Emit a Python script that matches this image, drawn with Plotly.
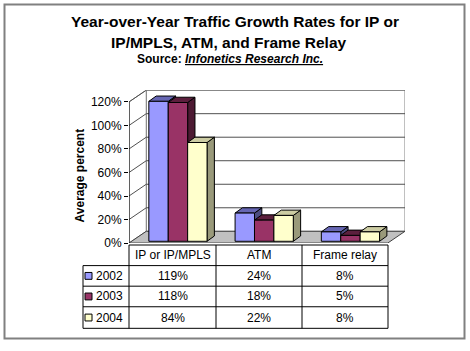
import plotly.graph_objects as go

# ---- data ----
categories = ["IP or IP/MPLS", "ATM", "Frame relay"]
years = ["2002", "2003", "2004"]
values_2002 = [119, 24, 8]
values_2003 = [118, 18, 5]
values_2004 = [84, 22, 8]
series = [values_2002, values_2003, values_2004]
tick_vals = [0, 20, 40, 60, 80, 100, 120]
tick_text = ["0%", "20%", "40%", "60%", "80%", "100%", "120%"]

# ---- styles ----
W, H = 470, 351
FONT = "Arial, Liberation Sans, Helvetica, sans-serif"
face_colors = ["#9999FF", "#993366", "#FFFFCC"]
top_colors = ["#6666B3", "#5C1F3D", "#CCCCA3"]
side_colors = ["#4D4D80", "#4D1A33", "#99997A"]

def px(x):
    return x / W

def py(y):
    return 1 - y / H

# axis geometry (front plane width per category = 1 unit)
DEPTH_X, DEPTH_Y = 0.2, 10          # wall/floor depth in data units
BAR_DX, BAR_DY = 0.085, 4.5         # bar depth
BAR_SET_X, BAR_SET_Y = 0.03, 1.5    # bars set slightly back on the floor
BAR_W = 0.225
BAR_START = 0.2
YMAX = 120

fig = go.Figure()

def poly(xs, ys, fill, line="#000000", lw=1):
    fig.add_trace(go.Scatter(
        x=xs + [xs[0]], y=ys + [ys[0]], mode="lines", fill="toself",
        fillcolor=fill, line=dict(color=line, width=lw),
        hoverinfo="skip", showlegend=False))

def line(xs, ys, color, lw=1):
    fig.add_trace(go.Scatter(
        x=xs, y=ys, mode="lines", line=dict(color=color, width=lw),
        hoverinfo="skip", showlegend=False))

ncat = len(categories)
# back wall
poly([DEPTH_X, ncat + DEPTH_X, ncat + DEPTH_X, DEPTH_X],
     [DEPTH_Y, DEPTH_Y, YMAX + DEPTH_Y, YMAX + DEPTH_Y], "#FFFFFF", "#808080")
# left wall
poly([0, DEPTH_X, DEPTH_X, 0], [0, DEPTH_Y, YMAX + DEPTH_Y, YMAX], "#FFFFFF", "#808080")
# floor
poly([0, ncat, ncat + DEPTH_X, DEPTH_X], [0, 0, DEPTH_Y, DEPTH_Y], "#C0C0C0", "#404040")
# gridlines
for v in tick_vals[1:]:
    line([0, DEPTH_X, ncat + DEPTH_X], [v, v + DEPTH_Y, v + DEPTH_Y], "#505050")
# axis line
line([0, 0], [0, YMAX], "#000000")

# bars (3D boxes)
for i in range(ncat):
    for j, vals in enumerate(series):
        v = vals[i]
        x0 = i + BAR_START + BAR_SET_X + j * BAR_W
        x1 = x0 + BAR_W
        b = BAR_SET_Y
        t = v + BAR_SET_Y
        # side face
        poly([x1, x1 + BAR_DX, x1 + BAR_DX, x1], [b, b + BAR_DY, t + BAR_DY, t], side_colors[j])
        # top face
        poly([x0, x1, x1 + BAR_DX, x0 + BAR_DX], [t, t, t + BAR_DY, t + BAR_DY], top_colors[j])
        # front face
        poly([x0, x1, x1, x0], [b, b, t, t], face_colors[j])

fig.update_layout(
    width=W, height=H,
    margin=dict(l=0, r=0, t=0, b=0),
    paper_bgcolor="#FFFFFF", plot_bgcolor="rgba(0,0,0,0)",
    showlegend=False,
    font=dict(family=FONT, color="#000000", size=12),
    xaxis=dict(domain=[px(129), px(405)], range=[0, ncat + DEPTH_X],
               showgrid=False, zeroline=False, showticklabels=False,
               showline=False, ticks=""),
    yaxis=dict(domain=[py(248), py(92)], range=[0, YMAX + DEPTH_Y],
               tickvals=tick_vals, ticktext=tick_text, ticks="outside",
               ticklen=4, tickcolor="#000000", showgrid=False,
               zeroline=False, showline=False,
               tickfont=dict(family=FONT, size=12, color="#000000")),
)

shapes = []
anns = []
# outer frame
shapes.append(dict(type="rect", xref="paper", yref="paper",
                   x0=px(4.5), x1=px(464.5), y0=py(345.5), y1=py(4.5),
                   line=dict(color="#808080", width=2)))

# titles
anns.append(dict(text="<b>Year-over-Year Traffic Growth Rates for IP or</b>",
                 x=px(235), y=py(22), font=dict(size=15.5)))
anns.append(dict(text="<b>IP/MPLS, ATM, and Frame Relay</b>",
                 x=px(229), y=py(43), font=dict(size=15.5)))
anns.append(dict(text="<b>Source: <i><u>Infonetics Research Inc.</u></i></b>",
                 x=px(230), y=py(60), font=dict(size=12)))
anns.append(dict(text="<b>Average percent</b>", x=px(80), y=py(179),
                 textangle=-90, font=dict(size=12)))

# data table
col_edges = [129, 216, 302, 388]
row_edges = [250, 271, 292, 313, 335]
leg_left = 83
black = dict(color="#000000", width=1)
# horizontal lines
shapes.append(dict(type="line", xref="paper", yref="paper", x0=px(col_edges[0]), x1=px(col_edges[-1]),
                   y0=py(row_edges[0]), y1=py(row_edges[0]), line=black))
for r in row_edges[1:]:
    shapes.append(dict(type="line", xref="paper", yref="paper", x0=px(leg_left), x1=px(col_edges[-1]),
                       y0=py(r), y1=py(r), line=black))
# vertical lines
for c in col_edges:
    shapes.append(dict(type="line", xref="paper", yref="paper", x0=px(c), x1=px(c),
                       y0=py(row_edges[0]), y1=py(row_edges[-1]), line=black))
shapes.append(dict(type="line", xref="paper", yref="paper", x0=px(leg_left), x1=px(leg_left),
                   y0=py(row_edges[1]), y1=py(row_edges[-1]), line=black))

# header
for k, cat in enumerate(categories):
    cx = (col_edges[k] + col_edges[k + 1]) / 2
    cy = (row_edges[0] + row_edges[1]) / 2
    anns.append(dict(text=cat, x=px(cx), y=py(cy), font=dict(size=12)))
# rows
for j, (yr, vals) in enumerate(zip(years, series)):
    cy = (row_edges[j + 1] + row_edges[j + 2]) / 2
    shapes.append(dict(type="rect", xref="paper", yref="paper",
                       x0=px(85), x1=px(92), y0=py(cy + 3.5), y1=py(cy - 3.5),
                       fillcolor=face_colors[j], line=dict(color="#000000", width=1)))
    anns.append(dict(text=yr, x=px(94), y=py(cy), xanchor="left", font=dict(size=12)))
    for k, v in enumerate(vals):
        cx = (col_edges[k] + col_edges[k + 1]) / 2
        anns.append(dict(text=f"{v}%", x=px(cx), y=py(cy), font=dict(size=12)))

for a in anns:
    a.setdefault("xref", "paper")
    a.setdefault("yref", "paper")
    a.setdefault("showarrow", False)
    a.setdefault("xanchor", "center")
    a.setdefault("yanchor", "middle")
fig.update_layout(shapes=shapes, annotations=anns)

fig.write_html("out.html")
